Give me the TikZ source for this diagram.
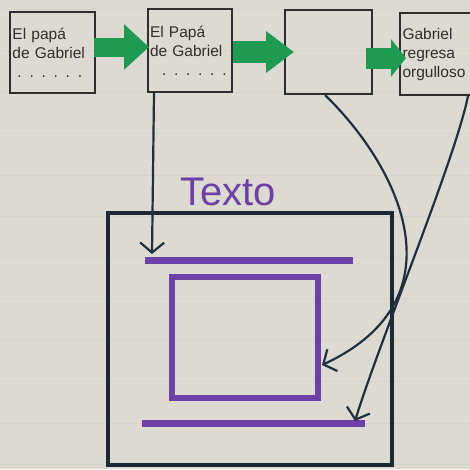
\documentclass[tikz,border=0pt]{standalone}
\usepackage{fontspec}
\setmainfont{Liberation Sans}
\usetikzlibrary{arrows.meta}
\definecolor{paper}{HTML}{DDDBD1}
\definecolor{rule}{HTML}{D3D4CE}
\definecolor{ink}{HTML}{2E2E2E}
\definecolor{navy}{HTML}{1C2833}
\definecolor{conncol}{HTML}{203040}
\definecolor{purp}{HTML}{6C40A6}
\definecolor{grn}{HTML}{1E9A52}
\tikzset{
  smallbox/.style={draw=ink, line width=2pt, fill=none, align=left, inner sep=2pt,
    font=\fontsize{15.5}{19}\selectfont, text=ink},
  garrow/.style={draw=grn, line width=#1, line cap=butt},
  conn/.style={draw=conncol, line width=2.2pt,
    -{Straight Barb[length=10pt,width=24pt,line width=2.2pt]}},
  purpline/.style={draw=purp, line width=7pt},
  purpbox/.style={draw=purp, line width=6.5pt},
  bigbox/.style={draw=navy, line width=4.5pt}
}
\begin{document}
\begin{tikzpicture}[x=1pt,y=-1pt]
\fill[paper] (0,0) rectangle (470,469);
\clip (0,0) rectangle (470,469);
% ruled lines of the paper
\foreach \yy in {9,50,92,133,175,216,257,298,340,381,423,464}
  \draw[rule, line width=1pt] (0,\yy) -- (470,\yy);

% top boxes
\node[smallbox, minimum width=85pt, minimum height=81pt, text width=80pt] (b1) at (52.5,52.5)
  {El papá\\de Gabriel\\\hspace*{5pt}. . . . . .};
\node[smallbox, minimum width=84pt, minimum height=83pt, text width=80pt] (b2) at (190,50.5)
  {El Papá\\de Gabriel\\\hspace*{12pt}. . . . . .};
\node[smallbox, minimum width=87pt, minimum height=84pt] (b3) at (328.5,52) {};
\node[smallbox, minimum width=95pt, minimum height=82pt, text width=90pt] (b4) at (447.5,54)
  {Gabriel\\regresa\\orgulloso};

% green arrows
\draw[garrow=19pt, -{Triangle[length=25pt,width=44pt]}]
  ([xshift=-2pt,yshift=5.5pt]b1.east) -- ([xshift=2pt,yshift=3.5pt]b2.west);
\draw[garrow=22pt, -{Triangle[length=28pt,width=40pt]}]
  ([yshift=-1.5pt]b2.east) -- ([xshift=10pt]b3.west);
\draw[garrow=21pt, -{Triangle[length=15pt,width=37pt]}]
  ([xshift=-7pt,yshift=-6pt]b3.east) -- ([xshift=7pt,yshift=-4pt]b4.west);

% big box
\node[bigbox, minimum width=284pt, minimum height=252pt, inner sep=0pt] (big) at (250,339) {};
\node[anchor=base west, inner sep=0pt, text=purp, font=\fontsize{40}{40}\selectfont] (title) at (180,205) {Texto};

% contents of big box
\coordinate (tl1) at (145,260);
\coordinate (tl2) at (353,260);
\coordinate (bl1) at (142,423);
\coordinate (bl2) at (365,423);
\draw[purpline] (tl1) -- (tl2);
\draw[purpline] (bl1) -- (bl2);
\node[purpbox, minimum width=146pt, minimum height=121pt, inner sep=0pt] (inner) at (245,337.5) {};

% connectors
\coordinate (e1) at (152,254);
\coordinate (e2) at (322,365);
\coordinate (e3) at (355,421);
\draw[conn] ([xshift=7pt]b2.south west) -- (e1);
\draw[conn] ([xshift=-3.5pt]b3.south) .. controls (402,170) and (462,300) .. (e2);
\draw[conn] ([xshift=20.5pt]b4.south) .. controls (455,160) and (380,340) .. (e3);
\end{tikzpicture}
\end{document}
